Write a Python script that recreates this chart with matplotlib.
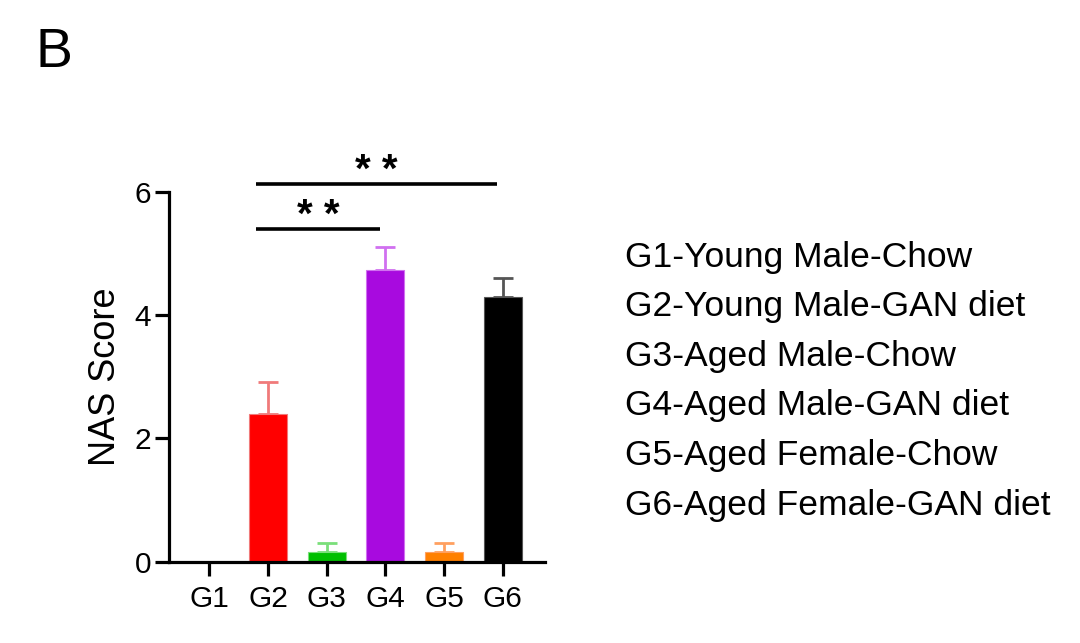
import matplotlib
matplotlib.use("Agg")
import matplotlib.pyplot as plt

plt.rcParams['font.family'] = ['Liberation Sans', 'DejaVu Sans']

groups = ["G1", "G2", "G3", "G4", "G5", "G6"]
means = [0.0, 2.40, 0.15, 4.73, 0.15, 4.30]
errors = [0.0, 0.51, 0.16, 0.38, 0.16, 0.30]
bar_colors = ["#FFFFFF", "#FF0000", "#00BF00", "#A80ADF", "#FF8000", "#000000"]
err_colors = ["#FFFFFF", "#F07A7A", "#7ADF7A", "#D070F0", "#FFA060", "#555555"]
legend_labels = [
    "G1-Young Male-Chow",
    "G2-Young Male-GAN diet",
    "G3-Aged Male-Chow",
    "G4-Aged Male-GAN diet",
    "G5-Aged Female-Chow",
    "G6-Aged Female-GAN diet",
]
# significance comparisons: (start group index, end group index, label)
sig_pairs = [(1, 3, "* *"), (1, 5, "* *")]
sig_heights = [5.39, 6.13]

W, H = 1080, 643
fig = plt.figure(figsize=(W / 100, H / 100), dpi=100)
ax = fig.add_axes([169 / W, 81.3 / H, (545 - 169) / W, (561.7 - 191.7) / H])

x = list(range(len(groups)))
for i in x:
    if means[i] > 0:
        ax.bar(i, means[i], width=0.65, color=bar_colors[i],
               edgecolor=err_colors[i], linewidth=0.8, zorder=2)
        ax.errorbar(i, means[i], yerr=[[0], [errors[i]]], fmt='none',
                    ecolor=err_colors[i], elinewidth=2, capsize=7.5,
                    capthick=2, zorder=1)

ax.set_xlim(-0.687, 5.72)
ax.set_ylim(0, 6)
ax.set_yticks([0, 2, 4, 6])
ax.set_xticks(x)
ax.set_xticklabels(groups)
for s in ["top", "right"]:
    ax.spines[s].set_visible(False)
for s in ["left", "bottom"]:
    ax.spines[s].set_linewidth(2.3)
ax.tick_params(axis='both', width=2.3, length=10, labelsize=21.5, pad=3)
ax.tick_params(axis='x', pad=7)
ax.set_ylabel("NAS Score", fontsize=26, labelpad=8)

# significance bars
for (a, b, lab), h in zip(sig_pairs, sig_heights):
    x0 = a - 0.2
    x1 = b - 0.1
    ax.plot([x0, x1], [h, h], color='black', lw=2.6, clip_on=False,
            solid_capstyle='butt')
    ax.text((x0 + x1) / 2, h + 0.03, lab, ha='center', va='baseline',
            fontsize=29, fontweight='bold', clip_on=False)

# group descriptions
for k, lab in enumerate(legend_labels):
    fig.text(625 / W, 1 - (257 + k * 49.6) / H, lab, fontsize=25.5,
             ha='left', va='center')

fig.text(36 / W, 1 - 53 / H, "B", fontsize=40, ha='left', va='center')

fig.savefig("out.png", dpi=100, facecolor='white')
